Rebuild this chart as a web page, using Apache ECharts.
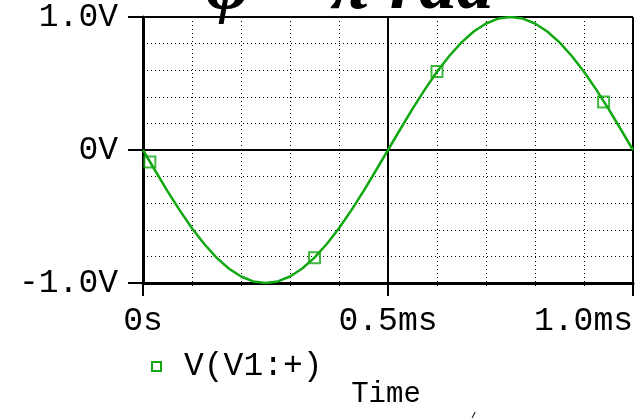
<!DOCTYPE html>
<html>
<head>
<meta charset="utf-8">
<script src="https://cdn.jsdelivr.net/npm/echarts@6/dist/echarts.min.js"></script>
<style>
  html, body { margin: 0; padding: 0; background: #fff; }
  #chart { width: 644px; height: 418px; }
</style>
</head>
<body>
<div id="chart"></div>
<script>
// sampled trace, time in ms
const timeMs = [0, 0.025, 0.05, 0.075, 0.1, 0.125, 0.15, 0.175, 0.2, 0.225, 0.25,
  0.275, 0.3, 0.325, 0.35, 0.375, 0.4, 0.425, 0.45, 0.475, 0.5,
  0.525, 0.55, 0.575, 0.6, 0.625, 0.65, 0.675, 0.7, 0.725, 0.75,
  0.775, 0.8, 0.825, 0.85, 0.875, 0.9, 0.925, 0.95, 0.975, 1.0];
const voltage = [0, -0.156, -0.309, -0.454, -0.588, -0.707, -0.809, -0.891, -0.951, -0.988, -1.0,
  -0.988, -0.951, -0.891, -0.809, -0.707, -0.588, -0.454, -0.309, -0.156, 0,
  0.156, 0.309, 0.454, 0.588, 0.707, 0.809, 0.891, 0.951, 0.988, 1.0,
  0.988, 0.951, 0.891, 0.809, 0.707, 0.588, 0.454, 0.309, 0.156, 0];
// marker squares on the trace
const markerTime = [0.014, 0.35, 0.6, 0.94];
const markerVolt = [-0.09, -0.81, 0.59, 0.36];

const seriesName = 'V(V1:+)';
const titleText = 'φ = π rad';
const xTitle = 'Time';

const green = '#11a811';
const monoFont = '"Liberation Mono", "DejaVu Sans Mono", monospace';

const chart = echarts.init(document.getElementById('chart'));

const xLabel = (v) => {
  if (v === 0) return '0s';
  return v.toFixed(1) + 'ms';
};
const yLabel = (v) => {
  if (v === 0) return '0V';
  return v.toFixed(1) + 'V';
};

const option = {
  animation: false,
  backgroundColor: '#fff',
  grid: { left: 143, right: 11, top: 17, bottom: 135 },
  legend: {
    left: 146,
    top: 345,
    icon: 'rect',
    itemWidth: 9,
    itemHeight: 9,
    data: [{
      name: seriesName,
      itemStyle: { color: '#fff', borderColor: green, borderWidth: 2 },
    }],
    textStyle: { fontFamily: monoFont, fontSize: 33, color: '#000', padding: [0, 0, 0, 18] },
  },
  xAxis: {
    type: 'value',
    min: 0,
    max: 1.0,
    interval: 0.5,
    axisLine: { onZero: false, lineStyle: { color: '#000', width: 3 } },
    axisTick: { length: 13, lineStyle: { color: '#000', width: 2 } },
    minorTick: { show: true, splitNumber: 5, length: 3, lineStyle: { color: '#000', width: 1 } },
    axisLabel: {
      formatter: xLabel,
      fontFamily: monoFont,
      fontSize: 33,
      color: '#000',
      margin: 22,
      alignMaxLabel: 'right',
    },
    splitLine: { show: true, lineStyle: { color: '#000', width: 2 } },
    minorSplitLine: { show: true, lineStyle: { color: '#000', width: 1, type: [1, 3] } },
  },
  yAxis: {
    type: 'value',
    min: -1,
    max: 1,
    interval: 1,
    axisLine: { onZero: false, lineStyle: { color: '#000', width: 3 } },
    axisTick: { length: 15, lineStyle: { color: '#000', width: 2 } },
    minorTick: { show: false, splitNumber: 5 },
    axisLabel: {
      formatter: yLabel,
      fontFamily: monoFont,
      fontSize: 33,
      color: '#000',
      margin: 25,
    },
    splitLine: { show: true, lineStyle: { color: '#000', width: 2 } },
    minorSplitLine: { show: true, lineStyle: { color: '#000', width: 1, type: [1, 3] } },
  },
  graphic: [
    {
      type: 'text',
      x: 206,
      y: -11,
      style: {
        text: titleText,
        font: 'italic bold 75px "Liberation Serif", "DejaVu Serif", serif',
        fill: '#000',
        textAlign: 'left',
        textVerticalAlign: 'middle',
      },
    },
    {
      type: 'text',
      x: 386,
      y: 394,
      style: {
        text: xTitle,
        font: '29px ' + monoFont,
        fill: '#000',
        textAlign: 'center',
        textVerticalAlign: 'middle',
      },
    },
    {
      type: 'text',
      x: 470,
      y: 411,
      style: {
        text: '/',
        font: 'italic bold 16px "Liberation Serif", serif',
        fill: '#000',
        textAlign: 'left',
        textVerticalAlign: 'top',
      },
    },
  ],
  series: [
    {
      name: seriesName,
      type: 'line',
      data: timeMs.map((t, i) => [t, voltage[i]]),
      showSymbol: false,
      smooth: false,
      lineStyle: { color: green, width: 2.5 },
      itemStyle: { color: green },
      z: 5,
    },
    {
      name: 'markers',
      type: 'scatter',
      data: markerTime.map((t, i) => [t, markerVolt[i]]),
      symbol: 'rect',
      symbolSize: 11,
      itemStyle: { color: 'rgba(0,0,0,0)', borderColor: green, borderWidth: 2 },
      z: 6,
    },
  ],
};

chart.setOption(option);
</script>
</body>
</html>
